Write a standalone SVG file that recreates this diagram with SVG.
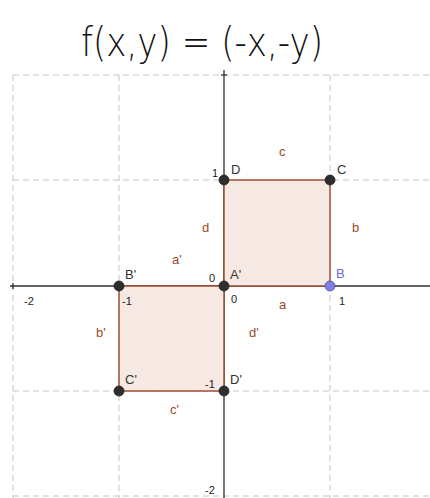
<svg xmlns="http://www.w3.org/2000/svg" width="430" height="498" viewBox="0 0 430 498">
<style>
.grid{stroke:#c4c4c4;stroke-width:1;stroke-dasharray:6,4;fill:none}
.axis{stroke:#303030;stroke-width:1.3;fill:none}
.sq{fill:#f6e8e2;stroke:#a0442a;stroke-width:1.4}
.pt{fill:#2e2e2e;stroke:#222;stroke-width:0.8}
.pl{font-family:"Liberation Sans",Arial,sans-serif;font-size:13px;fill:#333}
.nl{font-family:"Liberation Sans",Arial,sans-serif;font-size:11px;fill:#222}
.el{font-family:"Liberation Sans",Arial,sans-serif;font-size:13px;fill:#9a4a28}
.title{font-family:"DejaVu Sans",sans-serif;font-size:40px;font-weight:200;fill:#111}
</style>
<rect width="430" height="498" fill="#fff"/>
<text class="title" x="202" y="56" text-anchor="middle" textLength="242" lengthAdjust="spacingAndGlyphs">f(x,y) = (-x,-y)</text>
<g id="grid">
<line class="grid" x1="13" y1="75" x2="430" y2="75"/>
<line class="grid" x1="13" y1="180" x2="430" y2="180"/>
<line class="grid" x1="13" y1="391" x2="430" y2="391"/>
<line class="grid" x1="13" y1="496" x2="430" y2="496"/>
<line class="grid" x1="13" y1="75" x2="13" y2="498"/>
<line class="grid" x1="119" y1="75" x2="119" y2="498"/>
<line class="grid" x1="330" y1="75" x2="330" y2="498"/>
</g>
<g id="axes">
<line class="axis" x1="10" y1="286" x2="430" y2="286"/>
<line class="axis" x1="224" y1="70" x2="224" y2="498"/>
<line class="axis" x1="13" y1="283" x2="13" y2="289"/>
<line class="axis" x1="221" y1="75" x2="227" y2="75"/>
</g>
<g id="square-ABCD"><rect class="sq" x="224" y="180" width="106" height="106"/></g>
<g id="square-A'B'C'D'"><rect class="sq" x="119" y="286" width="105" height="105"/></g>
<g id="axis-labels">
<text class="nl" x="212" y="177">1</text>
<text class="nl" x="209" y="282">0</text>
<text class="nl" x="231" y="303">0</text>
<text class="nl" x="122" y="305">-1</text>
<text class="nl" x="24" y="305">-2</text>
<text class="nl" x="339" y="305">1</text>
<text class="nl" x="205" y="388">-1</text>
<text class="nl" x="205" y="494">-2</text>
</g>
<g id="edge-labels">
<text class="el" x="279" y="156">c</text>
<text class="el" x="202" y="232">d</text>
<text class="el" x="352" y="232">b</text>
<text class="el" x="172" y="264">a'</text>
<text class="el" x="279" y="309">a</text>
<text class="el" x="96" y="337">b'</text>
<text class="el" x="249" y="337">d'</text>
<text class="el" x="170" y="414">c'</text>
</g>
<g id="D"><circle class="pt" cx="224" cy="180" r="5"/><text class="pl" x="231" y="174">D</text></g>
<g id="C"><circle class="pt" cx="330" cy="180" r="5"/><text class="pl" x="337" y="174">C</text></g>
<g id="B"><circle cx="330" cy="286" r="5" fill="#8080e0" stroke="#4a4aa8" stroke-width="0.8"/><text class="pl" x="336" y="278" style="fill:#6a6ad8">B</text></g>
<g id="A'"><circle class="pt" cx="224" cy="286" r="5"/><text class="pl" x="230" y="279">A'</text></g>
<g id="B'"><circle class="pt" cx="119" cy="286" r="5"/><text class="pl" x="125" y="279">B'</text></g>
<g id="C'"><circle class="pt" cx="119" cy="391" r="5"/><text class="pl" x="125" y="384">C'</text></g>
<g id="D'"><circle class="pt" cx="224" cy="391" r="5"/><text class="pl" x="230" y="384">D'</text></g>
</svg>
